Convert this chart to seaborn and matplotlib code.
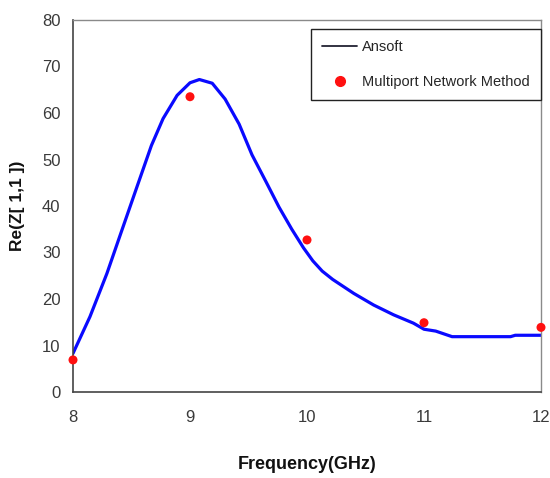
import numpy as np
import pandas as pd
import matplotlib
matplotlib.use('Agg')
import matplotlib.pyplot as plt
import seaborn as sns
from matplotlib.lines import Line2D

# Ansoft 시뮬레이션 곡선
ansoft_freq = [8.0, 8.145, 8.29, 8.40, 8.545, 8.67, 8.77, 8.89, 9.0, 9.08, 9.19,
               9.30, 9.42, 9.53, 9.65, 9.76, 9.87, 9.97, 10.05, 10.13, 10.22, 10.40,
               10.57, 10.74, 10.91, 11.0, 11.1, 11.24, 11.74, 11.78, 12.0]
ansoft_re = [8.3, 16.2, 25.5, 33.5, 44.0, 53.0, 58.8, 63.8, 66.5, 67.2, 66.4,
             63.0, 57.6, 51.0, 45.2, 39.8, 35.0, 31.0, 28.2, 26.0, 24.2, 21.2,
             18.7, 16.6, 14.8, 13.5, 13.1, 11.9, 11.9, 12.2, 12.2]

# Multiport Network Method 결과
mnm_freq = [8, 9, 10, 11, 12]
mnm_re = [6.9, 63.5, 32.7, 14.9, 13.9]

xticks = [8, 9, 10, 11, 12]
yticks = [0, 10, 20, 30, 40, 50, 60, 70, 80]

df_line = pd.DataFrame({'freq': ansoft_freq, 're': ansoft_re})
df_pts = pd.DataFrame({'freq': mnm_freq, 're': mnm_re})

sns.set_style('white')
plt.rcParams['font.family'] = ['Liberation Sans', 'DejaVu Sans']

fig = plt.figure(figsize=(5.5, 4.78), dpi=100)
ax = fig.add_axes([73 / 550, 86 / 478, 468 / 550, 372 / 478])

sns.lineplot(data=df_line, x='freq', y='re', ax=ax, color='#0a0aff', linewidth=2.3,
             solid_joinstyle='round')
sns.scatterplot(data=df_pts, x='freq', y='re', ax=ax, color='#ff1010',
                marker='o', s=42, edgecolor='none', zorder=5, clip_on=False)

ax.set_xlim(8, 12)
ax.set_ylim(0, 80)
ax.set_xticks(xticks)
ax.set_yticks(yticks)
ax.tick_params(axis='both', direction='out', length=5, width=1, color='#444444',
               labelsize=12, labelcolor='#3a3a3a', pad=4)
ax.tick_params(axis='x', pad=8)

for side in ['left', 'bottom']:
    ax.spines[side].set_color('#444444')
    ax.spines[side].set_linewidth(1.2)
for side in ['top', 'right']:
    ax.spines[side].set_color('#8a8a8a')
    ax.spines[side].set_linewidth(1.0)

ax.set_xlabel('Frequency(GHz)', fontsize=13, fontweight='bold', color='#111111', labelpad=22)
ax.set_ylabel('Re(Z[ 1,1 ])', fontsize=12.5, fontweight='bold', color='#111111', labelpad=12)

handles = [Line2D([], [], color='#222233', linewidth=1.3),
           Line2D([], [], color='#ff1010', marker='o', markersize=7, linestyle='none')]
leg = ax.legend(handles, ['Ansoft', 'Multiport Network Method'], loc='upper right',
                bbox_to_anchor=(1.0, 0.976), borderaxespad=0, fontsize=10.5,
                frameon=True, fancybox=False, edgecolor='#222222', framealpha=1,
                borderpad=0.75, labelspacing=1.45, handlelength=2.4, handletextpad=0.35)
leg.get_frame().set_linewidth(1.0)

fig.savefig('out.png', dpi=100, facecolor='white')
